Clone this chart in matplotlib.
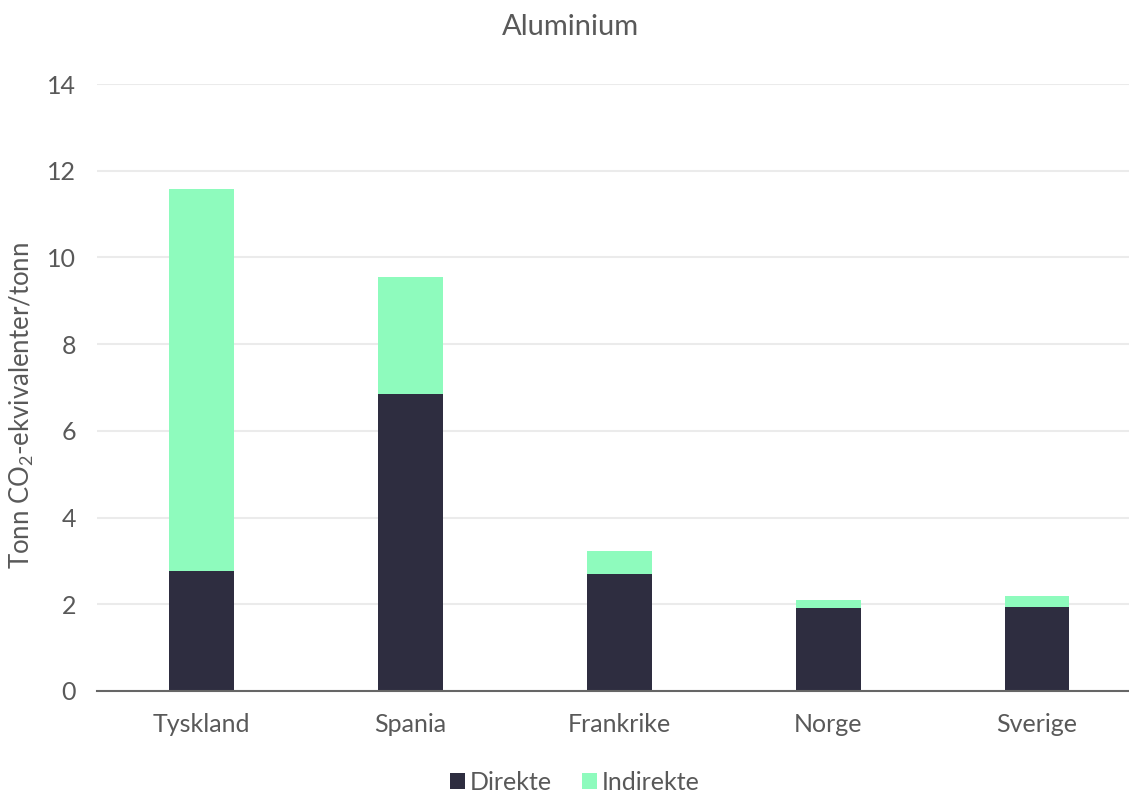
import matplotlib.pyplot as plt
import numpy as np

plt.rcParams['font.family'] = ['Lato', 'DejaVu Sans']
plt.rcParams['mathtext.fontset'] = 'custom'
plt.rcParams['mathtext.rm'] = 'Lato'
plt.rcParams['mathtext.it'] = 'Lato'
plt.rcParams['mathtext.default'] = 'rm'

countries = ["Tyskland", "Spania", "Frankrike", "Norge", "Sverige"]
direkte = [2.77, 6.85, 2.70, 1.92, 1.94]
indirekte = [8.81, 2.70, 0.53, 0.18, 0.25]

text_col = "#595959"
dark = "#2e2d40"
green = "#8efbbd"

fig = plt.figure(figsize=(11.29, 7.94), dpi=100)
ax = fig.add_axes([97 / 1129, 103 / 794, 1 - 97 / 1129, 607 / 794])

x = np.arange(len(countries))
w = 0.31
ax.bar(x, direkte, w, color=dark, label="Direkte", zorder=3)
ax.bar(x, indirekte, w, bottom=direkte, color=green, label="Indirekte", zorder=3)

ax.set_xlim(-0.5, 4.44)
ax.set_ylim(0, 14)
ax.set_yticks(range(0, 15, 2))
ax.set_xticks(x)
ax.set_xticklabels(countries)
ax.grid(axis="y", color="#ebebeb", linewidth=1.5, zorder=0)
ax.tick_params(axis="both", length=0, labelsize=18, colors=text_col)
ax.tick_params(axis="x", pad=16)
ax.tick_params(axis="y", pad=15)
for s in ["top", "right", "left"]:
    ax.spines[s].set_visible(False)
ax.spines["bottom"].set_color("#666666")
ax.spines["bottom"].set_linewidth(1.5)
ax.spines["bottom"].set_zorder(4)

ax.set_ylabel(r"Tonn CO$_2$-ekvivalenter/tonn", fontsize=18.5, color=text_col)
ax.yaxis.set_label_coords(-0.059, 0.47)
fig.text(570 / 1129, 1 - 27 / 794, "Aluminium", ha="center", va="center",
         fontsize=21, color=text_col)

fig.legend(loc="center", bbox_to_anchor=(575 / 1129, 1 - 782 / 794), ncol=2,
           frameon=False, fontsize=18, labelcolor=text_col, handlelength=0.6,
           handleheight=0.6, handletextpad=0.2, columnspacing=1.2)

fig.savefig("out.png", dpi=100)
